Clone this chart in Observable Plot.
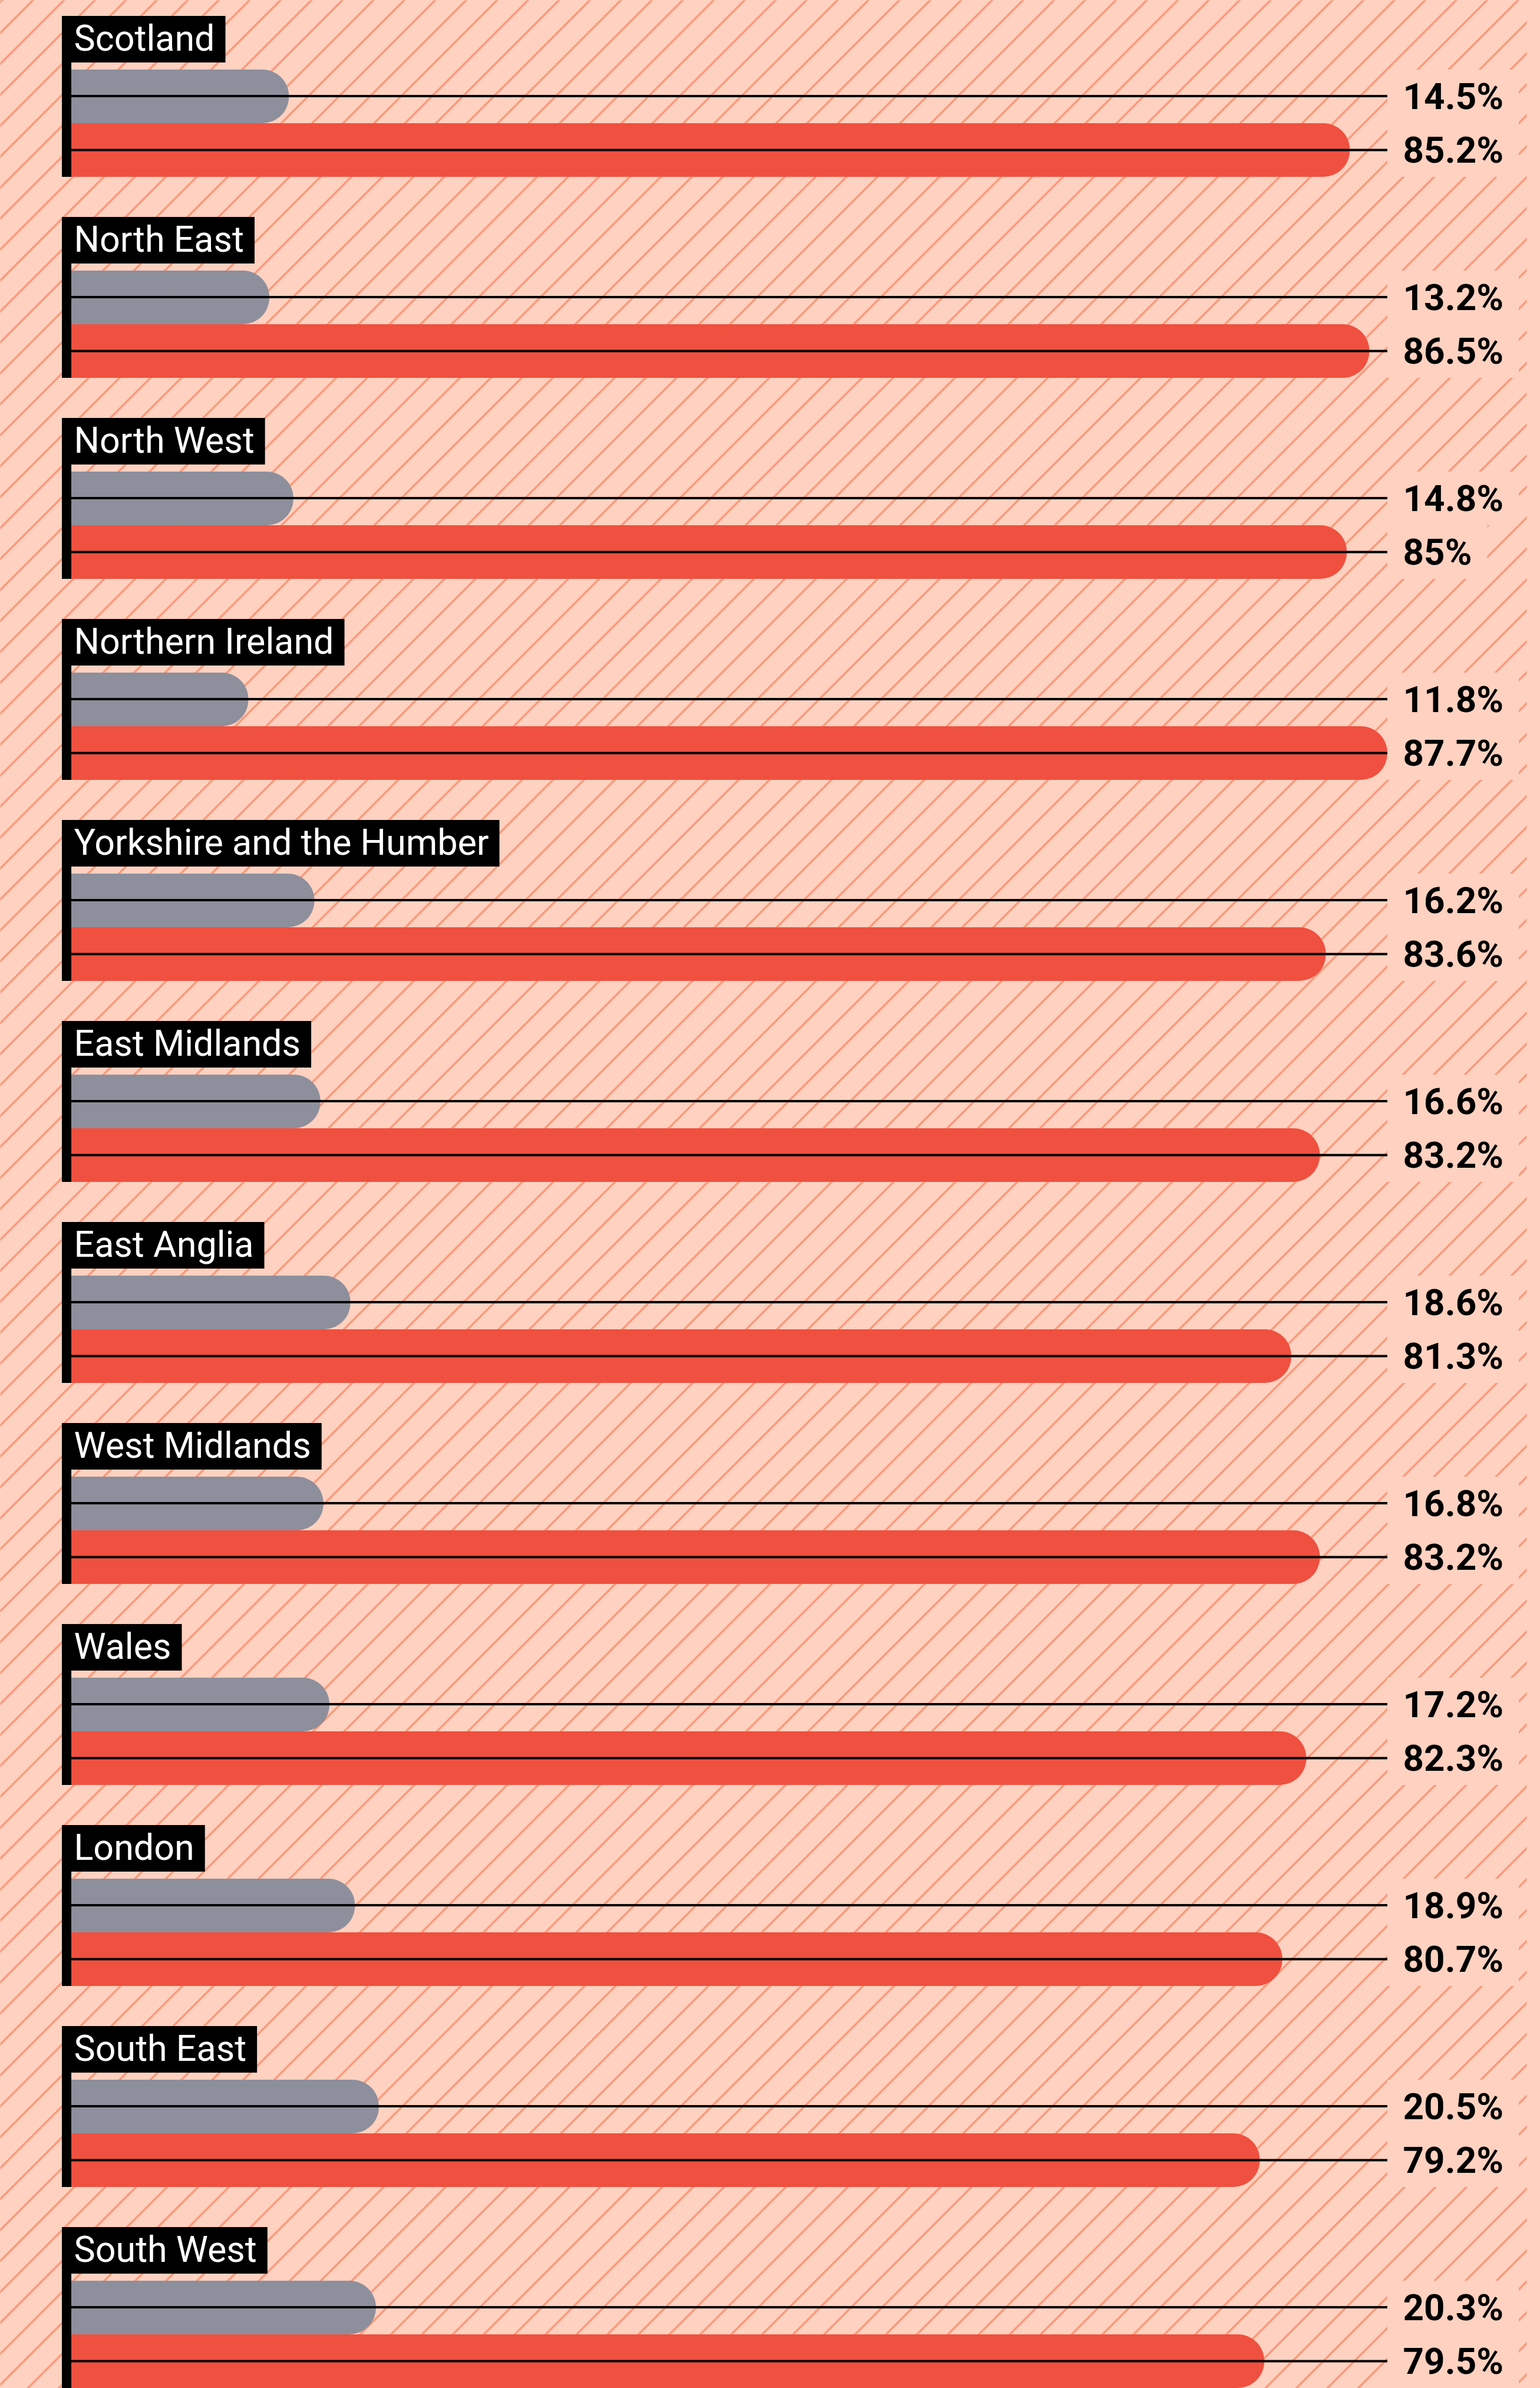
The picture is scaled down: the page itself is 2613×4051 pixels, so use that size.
<!DOCTYPE html>
<html>
<head>
<meta charset="utf-8">
<script src="https://cdn.jsdelivr.net/npm/d3@7"></script>
<script src="https://cdn.jsdelivr.net/npm/@observablehq/plot@0.6"></script>
<style>
  html, body { margin: 0; padding: 0; background: #FFD1C0; }
  #chart svg { display: block; }
</style>
</head>
<body>
<div id="chart"></div>
<script>
// ---- data ----
const regions = ["Scotland", "North East", "North West", "Northern Ireland",
  "Yorkshire and the Humber", "East Midlands", "East Anglia", "West Midlands",
  "Wales", "London", "South East", "South West"];
const greyValues = [14.5, 13.2, 14.8, 11.8, 16.2, 16.6, 18.6, 16.8, 17.2, 18.9, 20.5, 20.3];
const redValues  = [85.2, 86.5, 85.0, 87.7, 83.6, 83.2, 81.3, 83.2, 82.3, 80.7, 79.2, 79.5];
const greyLabels = ["14.5%", "13.2%", "14.8%", "11.8%", "16.2%", "16.6%", "18.6%", "16.8%", "17.2%", "18.9%", "20.5%", "20.3%"];
const redLabels  = ["85.2%", "86.5%", "85%", "87.7%", "83.6%", "83.2%", "81.3%", "83.2%", "82.3%", "80.7%", "79.2%", "79.5%"];

// ---- styles ----
const BG = "#FFD1C0", HATCH = "#F99677", GREY = "#8E8F9C", RED = "#F0503F";
const rows = regions.map((region, i) => ({
  region, grey: greyValues[i], red: redValues[i], greyLabel: greyLabels[i], redLabel: redLabels[i]
}));
const xMax = d3.max(redValues);

const hatchDefs = () => {
  const ns = "http://www.w3.org/2000/svg";
  const d = document.createElementNS(ns, "defs");
  d.innerHTML = `<pattern id="hatch" patternUnits="userSpaceOnUse" width="37.12" height="20" patternTransform="rotate(45)">
      <line x1="2" y1="-2" x2="2" y2="22" stroke="${HATCH}" stroke-width="3.3"/></pattern>`;
  return d;
};

const band = {y: "region"};
const plot = Plot.plot({
  width: 2613,
  height: 4051,
  margin: 0,
  style: {background: BG},
  x: {domain: [0, xMax], range: [121, 2354], axis: null},
  y: {type: "band", domain: regions, range: [0, 4092], paddingInner: 0, paddingOuter: 0, round: false, axis: null},
  marks: [
    hatchDefs,
    Plot.frame({fill: "url(#hatch)", stroke: "none", insetRight: 23}),
    // plain boxes behind value labels (width fitted to text after render)
    Plot.barX(rows, {...band, x1: xMax, x2: xMax, fill: BG, insetTop: 118, insetBottom: 132, className: "vbox-grey"}),
    Plot.barX(rows, {...band, x1: xMax, x2: xMax, fill: BG, insetTop: 209, insetBottom: 41, className: "vbox-red"}),
    // grey bars (rounded end + square start)
    Plot.barX(rows, {...band, x1: 0, x2: "grey", fill: GREY, insetTop: 118, insetBottom: 132, rx: 45}),
    Plot.barX(rows, {...band, x1: 0, x2: d => d.grey / 2, fill: GREY, insetTop: 118, insetBottom: 132}),
    // red bars
    Plot.barX(rows, {...band, x1: 0, x2: "red", fill: RED, insetTop: 209, insetBottom: 41, rx: 45}),
    Plot.barX(rows, {...band, x1: 0, x2: d => d.red / 2, fill: RED, insetTop: 209, insetBottom: 41}),
    // guide lines through the middle of each bar
    Plot.barX(rows, {...band, x1: 0, x2: xMax, fill: "black", insetTop: 161, insetBottom: 176}),
    Plot.barX(rows, {...band, x1: 0, x2: xMax, fill: "black", insetTop: 252.5, insetBottom: 84.5}),
    // vertical axis stub
    Plot.barX(rows, {...band, x1: 0, x2: 0, fill: "black", insetLeft: -16, insetTop: 27, insetBottom: 41}),
    // label box (width fitted to text after render)
    Plot.barX(rows, {...band, x1: 0, x2: 0, fill: "black", insetLeft: -16, insetTop: 27, insetBottom: 235, className: "lbox"}),
    Plot.text(rows, {...band, x: 0, text: "region", fill: "white", textAnchor: "start", lineAnchor: "bottom",
      dx: 4, dy: -85.5, fontSize: 61, fontWeight: 400, fontFamily: "Roboto, 'Open Sans', sans-serif", className: "rlabel"}),
    Plot.text(rows, {...band, x: xMax, text: "greyLabel", fill: "black", textAnchor: "start", lineAnchor: "bottom",
      dx: 26, dy: 13.5, fontSize: 62, fontWeight: 700, fontFamily: "Roboto, 'Open Sans', sans-serif", className: "vlabel-grey"}),
    Plot.text(rows, {...band, x: xMax, text: "redLabel", fill: "black", textAnchor: "start", lineAnchor: "bottom",
      dx: 26, dy: 104.5, fontSize: 62, fontWeight: 700, fontFamily: "Roboto, 'Open Sans', sans-serif", className: "vlabel-red"})
  ]
});

document.getElementById("chart").append(plot);

// fit the box widths to their rendered text
function fit(boxSel, textSel, barIdx, textIdx, pad) {
  let boxes = plot.querySelectorAll(`g.${boxSel} rect`);
  let texts = plot.querySelectorAll(`g.${textSel} text`);
  if (!boxes.length) boxes = plot.querySelectorAll('g[aria-label="bar"]')[barIdx].querySelectorAll("rect");
  if (!texts.length) texts = plot.querySelectorAll('g[aria-label="text"]')[textIdx].querySelectorAll("text");
  boxes.forEach((r, i) => {
    const t = texts[i];
    if (!t) return;
    const tr = t.getBoundingClientRect();
    const rr = r.getBoundingClientRect();
    r.setAttribute("width", Math.max(0, tr.right + pad - rr.left));
  });
}
fit("lbox", "rlabel", 9, 0, 18);
fit("vbox-grey", "vlabel-grey", 0, 1, 26);
fit("vbox-red", "vlabel-red", 1, 2, 26);
</script>
</body>
</html>
